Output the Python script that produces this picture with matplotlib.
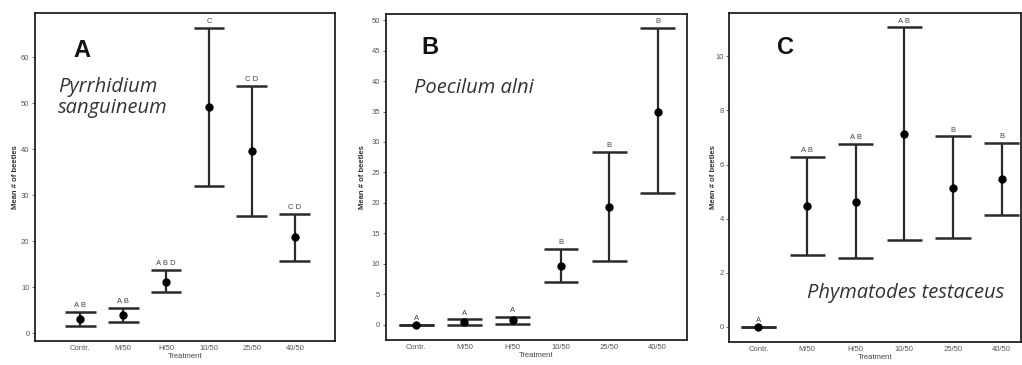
import matplotlib
matplotlib.use('Agg')
import matplotlib.pyplot as plt

treatments = ['Contr.', 'M/50', 'H/50', '10/50', '25/50', '40/50']

# Panel A - Pyrrhidium sanguineum
a_mean = [3.1, 4.0, 11.2, 49.1, 39.7, 20.9]
a_upper = [4.7, 5.5, 13.8, 66.4, 53.8, 26.0]
a_lower = [1.45, 2.5, 8.9, 32.0, 25.5, 15.6]
a_groups = ['A B', 'A B', 'A B D', 'C', 'C D', 'C D']
a_yticks = [0, 10, 20, 30, 40, 50, 60]

# Panel B - Poecilum alni
b_mean = [0.0, 0.4, 0.7, 9.7, 19.4, 35.0]
b_upper = [0.0, 0.9, 1.3, 12.4, 28.4, 48.7]
b_lower = [0.0, 0.0, 0.2, 7.1, 10.5, 21.6]
b_groups = ['A', 'A', 'A', 'B', 'B', 'B']
b_yticks = [0, 5, 10, 15, 20, 25, 30, 35, 40, 45, 50]

# Panel C - Phymatodes testaceus
c_mean = [0.0, 4.47, 4.63, 7.12, 5.12, 5.46]
c_upper = [0.0, 6.27, 6.75, 11.07, 7.04, 6.79]
c_lower = [0.0, 2.65, 2.56, 3.21, 3.27, 4.14]
c_groups = ['A', 'A B', 'A B', 'A B', 'B', 'B']
c_yticks = [0, 2, 4, 6, 8, 10]

plt.rcParams['font.family'] = ['Liberation Sans', 'DejaVu Sans']

fig = plt.figure(figsize=(10.22, 3.65), dpi=100)

panels = [
    dict(rect=[0.0342, 0.0658, 0.2935, 0.8986], mean=a_mean, up=a_upper, lo=a_lower,
         groups=a_groups, yticks=a_yticks, ylim=(-1.7, 69.6), xlim=(-1.05, 5.93),
         letter='A', lpos=(0.157, 0.887), species='Pyrrhidium\nsanguineum',
         spos=(0.077, 0.742), ylab_x=-0.052),
    dict(rect=[0.3774, 0.0685, 0.2948, 0.8931], mean=b_mean, up=b_upper, lo=b_lower,
         groups=b_groups, yticks=b_yticks, ylim=(-2.5, 51.0), xlim=(-0.63, 5.61),
         letter='B', lpos=(0.147, 0.896), species='Poecilum alni',
         spos=(0.094, 0.773), ylab_x=-0.066),
    dict(rect=[0.7136, 0.063, 0.2855, 0.9014], mean=c_mean, up=c_upper, lo=c_lower,
         groups=c_groups, yticks=c_yticks, ylim=(-0.56, 11.6), xlim=(-0.6, 5.4),
         letter='C', lpos=(0.194, 0.894), species='Phymatodes testaceus',
         spos=(0.268, 0.149), ylab_x=-0.043),
]

x = list(range(len(treatments)))
line_col = '#2a2a2a'
cap_half = 0.36

for p in panels:
    ax = fig.add_axes(p['rect'])
    for i in x:
        ax.vlines(i, p['lo'][i], p['up'][i], color=line_col, lw=1.6, zorder=2)
        ax.hlines([p['lo'][i], p['up'][i]], i - cap_half, i + cap_half,
                  color=line_col, lw=1.8, zorder=2)
        ax.annotate(p['groups'][i], (i, p['up'][i]), xytext=(0, 2),
                    textcoords='offset points', ha='center', va='bottom',
                    fontsize=5.5, color='#444444')
    ax.plot(x, p['mean'], 'o', color='black', ms=5, zorder=3)

    ax.set_xlim(p['xlim'])
    ax.set_ylim(p['ylim'])
    ax.set_xticks(x)
    ax.set_xticklabels(treatments)
    ax.set_yticks(p['yticks'])
    ax.tick_params(axis='both', labelsize=5.5, colors='#555555', length=2, width=0.6, pad=2)
    ax.tick_params(axis='x', length=0, pad=3)
    for s in ax.spines.values():
        s.set_linewidth(1.3)
        s.set_color('#222222')

    ax.set_ylabel('Mean # of beetles', fontsize=5.5, fontweight='bold', color='#333333')
    ax.yaxis.set_label_coords(p['ylab_x'], 0.5)
    ax.set_xlabel('Treatment', fontsize=5.5, color='#444444', labelpad=0.5)

    ax.text(p['lpos'][0], p['lpos'][1], p['letter'], transform=ax.transAxes,
            fontsize=17, fontweight='bold', ha='center', va='center', color='#111111')
    ax.text(p['spos'][0], p['spos'][1], p['species'], transform=ax.transAxes,
            fontsize=14.5, style='italic', family='Open Sans', ha='left', va='center',
            color='#333333', linespacing=1.05)

fig.savefig('out.png', dpi=100)
